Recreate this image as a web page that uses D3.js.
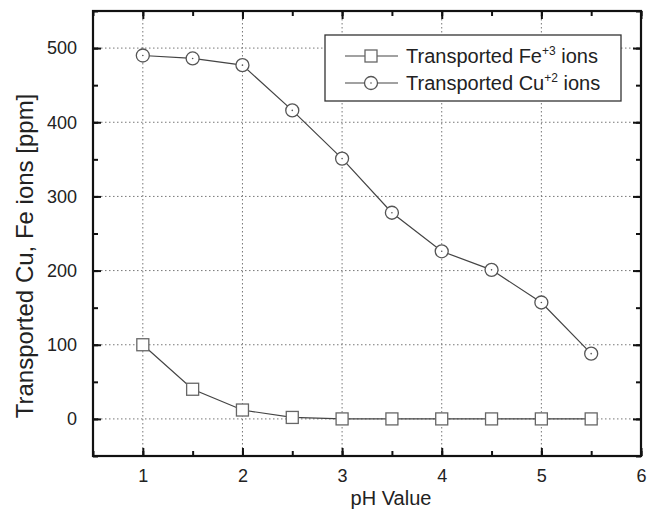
<!DOCTYPE html>
<html><head><meta charset="utf-8">
<script src="https://cdn.jsdelivr.net/npm/d3@7"></script>
<style>body{margin:0;background:#fff}text{font-family:Arial,"Liberation Sans",sans-serif;fill:#222}</style>
</head><body><svg id="c" width="657" height="509"></svg>
<script>
const phValues = [1, 1.5, 2, 2.5, 3, 3.5, 4, 4.5, 5, 5.5];
const feValues = [100, 40, 12, 2, 0, 0, 0, 0, 0, 0];
const cuValues = [490, 486, 477, 416, 351, 278, 226, 201, 157, 88];
const xTicks = [1, 2, 3, 4, 5, 6];
const yTicks = [0, 100, 200, 300, 400, 500];
const seriesNames = ["Transported Fe", "Transported Cu"];

const svg = d3.select("#c");
const L = 93, R = 641, T = 11, B = 456;
const x = d3.scaleLinear().domain([0.5, 6]).range([L, R]);
const y = d3.scaleLinear().domain([-50, 550]).range([B, T]);

// grid
const g = svg.append("g");
g.selectAll(".gx").data(xTicks.filter(d => d < 6)).join("line")
  .attr("x1", d => x(d)).attr("x2", d => x(d)).attr("y1", T).attr("y2", B)
  .attr("stroke", "#777").attr("stroke-width", 1).attr("stroke-dasharray", "1.5,2.5");
g.selectAll(".gy").data(yTicks).join("line")
  .attr("y1", d => y(d)).attr("y2", d => y(d)).attr("x1", L).attr("x2", R)
  .attr("stroke", "#777").attr("stroke-width", 1).attr("stroke-dasharray", "1.5,2.5");

// axes
const xMinor = d3.range(0.5, 6.01, 0.5);
const yMinor = d3.range(-50, 551, 50);
const fmt = d3.format("d");
svg.append("g").attr("transform", `translate(0,${B})`)
  .call(d3.axisBottom(x).tickValues(xTicks).tickSize(-8).tickPadding(13).tickFormat(fmt));
svg.append("g").attr("transform", `translate(0,${B})`)
  .call(d3.axisBottom(x).tickValues(xMinor).tickSize(-5).tickFormat(""));
svg.append("g").attr("transform", `translate(0,${T})`)
  .call(d3.axisTop(x).tickValues(xTicks).tickSize(-8).tickFormat(""));
svg.append("g").attr("transform", `translate(0,${T})`)
  .call(d3.axisTop(x).tickValues(xMinor).tickSize(-5).tickFormat(""));
svg.append("g").attr("transform", `translate(${L},0)`)
  .call(d3.axisLeft(y).tickValues(yTicks).tickSize(-8).tickPadding(16).tickFormat(fmt));
svg.append("g").attr("transform", `translate(${L},0)`)
  .call(d3.axisLeft(y).tickValues(yMinor).tickSize(-5).tickFormat(""));
svg.append("g").attr("transform", `translate(${R},0)`)
  .call(d3.axisRight(y).tickValues(yTicks).tickSize(-8).tickFormat(""));
svg.append("g").attr("transform", `translate(${R},0)`)
  .call(d3.axisRight(y).tickValues(yMinor).tickSize(-5).tickFormat(""));
svg.selectAll(".domain").remove();
svg.selectAll(".tick line").attr("stroke", "#111").attr("stroke-width", 2);
svg.selectAll(".tick text").style("font-size", "18px").attr("fill", "#222");
svg.append("rect").attr("x", L).attr("y", T).attr("width", R - L).attr("height", B - T)
  .attr("fill", "none").attr("stroke", "#111").attr("stroke-width", 2.2);

// lines
const line = d3.line().x(d => x(d[0])).y(d => y(d[1]));
const fe = phValues.map((p, i) => [p, feValues[i]]);
const cu = phValues.map((p, i) => [p, cuValues[i]]);
[fe, cu].forEach(s => svg.append("path").datum(s).attr("d", line)
  .attr("fill", "none").attr("stroke", "#444").attr("stroke-width", 1.2));

function square(sel, cx, cy) {
  sel.append("rect").attr("x", cx - 6).attr("y", cy - 6).attr("width", 12).attr("height", 12)
    .attr("fill", "#fff").attr("stroke", "#666").attr("stroke-width", 1.3);
}
function circ(sel, cx, cy) {
  sel.append("circle").attr("cx", cx).attr("cy", cy).attr("r", 6.5)
    .attr("fill", "#fff").attr("stroke", "#555").attr("stroke-width", 1.3);
  sel.append("circle").attr("cx", cx).attr("cy", cy).attr("r", 0.8).attr("fill", "#555");
}
const mk = svg.append("g");
fe.forEach(d => square(mk, x(d[0]), y(d[1])));
cu.forEach(d => circ(mk, x(d[0]), y(d[1])));

// legend
const lg = svg.append("g");
lg.append("rect").attr("x", 325).attr("y", 35).attr("width", 296).attr("height", 66)
  .attr("fill", "#fff").attr("stroke", "#333").attr("stroke-width", 1.3);
const rows = [{n: seriesNames[0], sup: "+3", y: 56, m: square}, {n: seriesNames[1], sup: "+2", y: 83, m: circ}];
rows.forEach(r => {
  lg.append("line").attr("x1", 345).attr("x2", 398).attr("y1", r.y).attr("y2", r.y)
    .attr("stroke", "#444").attr("stroke-width", 1.2);
  r.m(lg, 371, r.y);
  const t = lg.append("text").attr("x", 406).attr("y", r.y + 7).style("font-size", "20px");
  t.append("tspan").text(r.n);
  t.append("tspan").attr("dy", -8).style("font-size", "12px").text(r.sup);
  t.append("tspan").attr("dy", 8).text(" ions");
});

// axis titles
svg.append("text").attr("x", 391).attr("y", 505).attr("text-anchor", "middle")
  .style("font-size", "20px").text("pH Value");
svg.append("text").attr("transform", `translate(33,256) rotate(-90)`)
  .attr("text-anchor", "middle").style("font-size", "24px").text("Transported Cu, Fe ions [ppm]");
</script></body></html>
